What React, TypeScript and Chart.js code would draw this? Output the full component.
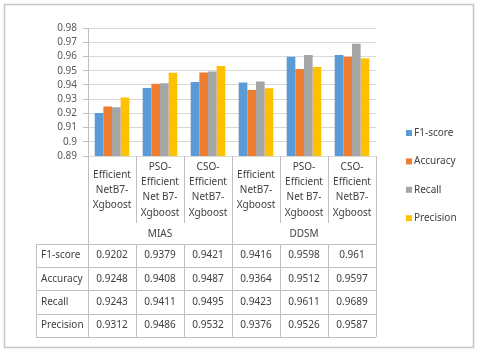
import React, { useEffect, useRef } from "react";
import { Chart, registerables } from "chart.js";

Chart.register(...registerables);

const categories: string[][] = [
  ["Efficient", "NetB7-", "Xgboost"],
  ["PSO-", "Efficient", "Net B7-", "Xgboost"],
  ["CSO-", "Efficient", "NetB7-", "Xgboost"],
  ["Efficient", "NetB7-", "Xgboost"],
  ["PSO-", "Efficient", "Net B7-", "Xgboost"],
  ["CSO-", "Efficient", "NetB7-", "Xgboost"],
];
const groups: string[] = ["MIAS", "DDSM"];
const groupSize = 3;

const seriesNames: string[] = ["F1-score", "Accuracy", "Recall", "Precision"];
const f1Score: number[] = [0.9202, 0.9379, 0.9421, 0.9416, 0.9598, 0.961];
const accuracy: number[] = [0.9248, 0.9408, 0.9487, 0.9364, 0.9512, 0.9597];
const recall: number[] = [0.9243, 0.9411, 0.9495, 0.9423, 0.9611, 0.9689];
const precision: number[] = [0.9312, 0.9486, 0.9532, 0.9376, 0.9526, 0.9587];
const seriesColors: string[] = ["#5B9BD5", "#ED7D31", "#A5A5A5", "#FFC000"];

const yMin = 0.89;
const yMax = 0.98;
const yStep = 0.01;

const FONT = "'Noto Sans', 'Open Sans', sans-serif";
const TEXT = "#404040";
const LINE = "#bfbfbf";

const tablePlugin = {
  id: "tablePlugin",
  beforeDraw(chart: any) {
    const ctx = chart.ctx;
    ctx.save();
    ctx.fillStyle = "#ffffff";
    ctx.fillRect(0, 0, chart.width, chart.height);
    ctx.restore();
  },
  afterDraw(chart: any) {
    const ctx = chart.ctx;
    const xs = chart.scales.x;
    const area = chart.chartArea;
    const n = categories.length;
    const half = (xs.getPixelForValue(1) - xs.getPixelForValue(0)) / 2;
    const edges: number[] = [];
    for (let i = 0; i < n; i++) edges.push(xs.getPixelForValue(i) - half);
    edges.push(xs.getPixelForValue(n - 1) + half);

    const labelBottom = 223;
    const tableTop = 244;
    const rowH = 23.2;
    const headerLeft = 36;
    const rows = [f1Score, accuracy, recall, precision];
    const tableBottom = tableTop + rowH * rows.length;

    ctx.save();
    // outer frame
    ctx.strokeStyle = "#c4c4c4";
    ctx.lineWidth = 1.5;
    ctx.strokeRect(4.5, 4.5, 469, 343);

    ctx.strokeStyle = LINE;
    ctx.lineWidth = 1;
    ctx.beginPath();
    const r = (v: number) => Math.round(v) + 0.5;
    edges.forEach((ex, i) => {
      const full = i % groupSize === 0;
      if (full) {
        ctx.moveTo(r(ex), area.bottom);
        ctx.lineTo(r(ex), tableBottom);
      } else {
        ctx.moveTo(r(ex), area.bottom);
        ctx.lineTo(r(ex), labelBottom);
        ctx.moveTo(r(ex), tableTop);
        ctx.lineTo(r(ex), tableBottom);
      }
    });
    ctx.moveTo(r(headerLeft), tableTop);
    ctx.lineTo(r(headerLeft), tableBottom);
    for (let k = 0; k <= rows.length; k++) {
      const yy = r(tableTop + rowH * k);
      ctx.moveTo(headerLeft, yy);
      ctx.lineTo(edges[n], yy);
    }
    ctx.stroke();

    ctx.fillStyle = TEXT;
    ctx.font = `10px ${FONT}`;
    ctx.textAlign = "center";
    ctx.textBaseline = "middle";
    const lh = 15.3;
    const labelCenter = 190;
    categories.forEach((lines, i) => {
      const cx = xs.getPixelForValue(i);
      const start = labelCenter - ((lines.length - 1) * lh) / 2;
      lines.forEach((t, j) => ctx.fillText(t, cx, start + j * lh));
    });
    groups.forEach((g, gi) => {
      const cx = (edges[gi * groupSize] + edges[(gi + 1) * groupSize]) / 2;
      ctx.fillText(g, cx, 234);
    });
    rows.forEach((vals, k) => {
      const cy = tableTop + rowH * (k + 0.5);
      ctx.textAlign = "left";
      ctx.fillText(seriesNames[k], headerLeft + 5, cy);
      ctx.textAlign = "center";
      vals.forEach((v, i) => ctx.fillText(String(v), xs.getPixelForValue(i), cy));
    });

    // legend
    const legendX = 406;
    const legendY0 = 133;
    const legendGap = 28.4;
    chart.data.datasets.forEach((ds: any, k: number) => {
      const cy = legendY0 + k * legendGap;
      ctx.fillStyle = ds.backgroundColor;
      ctx.fillRect(legendX, cy - 3, 6, 6);
      ctx.fillStyle = TEXT;
      ctx.textAlign = "left";
      ctx.fillText(ds.label, legendX + 8, cy);
    });
    ctx.restore();
  },
};

export default function App() {
  const ref = useRef<HTMLCanvasElement | null>(null);
  useEffect(() => {
    if (!ref.current) return;
    const seriesData = [f1Score, accuracy, recall, precision];
    const chart = new Chart(ref.current, {
      type: "bar",
      data: {
        labels: categories.map((c) => c.join(" ")),
        datasets: seriesNames.map((name, k) => ({
          label: name,
          data: seriesData[k],
          backgroundColor: seriesColors[k],
          borderWidth: 0,
          categoryPercentage: 0.72,
          barPercentage: 1.0,
        })),
      },
      options: {
        responsive: false,
        animation: false,
        layout: { padding: { left: 0, top: 28, right: 104, bottom: 198 } },
        plugins: { legend: { display: false }, tooltip: { enabled: false } },
        scales: {
          x: { display: false },
          y: {
            min: yMin,
            max: yMax,
            afterFit: (s: any) => {
              s.width = 88;
            },
            ticks: {
              stepSize: yStep,
              autoSkip: false,
              padding: 6,
              color: "#595959",
              font: { family: FONT, size: 10 },
              callback: (v: any) => String(Number(Number(v).toFixed(2))),
            },
            grid: { color: "#d9d9d9", tickLength: 5, tickColor: LINE },
            border: { display: true, color: LINE },
          },
        },
      },
      plugins: [tablePlugin],
    });
    return () => chart.destroy();
  }, []);
  return (
    <div style={{ position: "absolute", left: 0, top: 0, width: 480, height: 354 }}>
      <canvas ref={ref} width={480} height={354} style={{ display: "block" }} />
    </div>
  );
}
